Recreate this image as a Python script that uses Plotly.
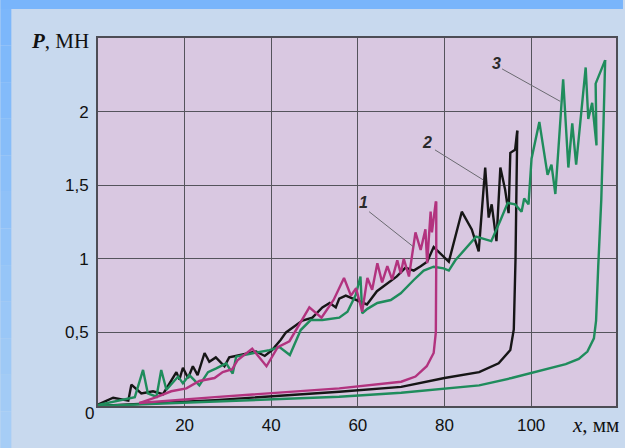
import plotly.graph_objects as go

# ---------------- data ----------------
# specimen 1 (magenta): noisy loading branch and smooth branch
s1_up_x = [9.5, 13.5, 16.9, 20.4, 23.4, 26.9, 28.8, 31, 32.2, 35.6, 38.9, 41.5, 44.2, 48.8, 51.6, 54.4,
           56.8, 58.4, 59.6, 61, 62.2, 63.3, 64.5, 65.6, 66.8, 67.9, 69.1, 69.9, 70.6, 71.8, 73.3, 74.5,
           75.6, 76.0, 76.8, 77.1, 78.0]
s1_up_y = [0.02, 0.06, 0.10, 0.12, 0.17, 0.19, 0.23, 0.25, 0.31, 0.39, 0.27, 0.40, 0.44, 0.67, 0.60, 0.72,
           0.87, 0.75, 0.80, 0.64, 0.87, 0.79, 0.97, 0.84, 0.95, 0.86, 0.99, 0.90, 1.00, 0.88, 1.18, 1.06,
           1.20, 0.97, 1.32, 1.18, 1.39]
s1_lo_x = [9.5, 27, 55.7, 70, 73.3, 75.9, 77.5, 78.0, 78.1, 78.1]
s1_lo_y = [0.02, 0.06, 0.12, 0.165, 0.20, 0.27, 0.36, 0.50, 1.00, 1.39]

# specimen 2 (black)
s2_up_x = [0, 3.5, 7, 7.7, 10, 12.7, 15, 18.1, 18.8, 19.6, 20.8, 21.9, 23, 24.6, 25.7, 27.2, 29.2, 30.3,
           33.4, 36.5, 38.5, 40.2, 42.2, 43.4, 47.2, 49.5, 51.8, 53.5, 54.9, 55.7, 57.2, 59.8, 62.1, 64.4,
           66.7, 69, 71, 72.9, 74.5, 76, 77.5, 79.8, 81, 84, 86.3, 87.9, 89.4, 90.2, 90.9, 92, 92.9, 94,
           94.8, 95.2, 96.3, 96.8]
s2_up_y = [0.01, 0.056, 0.036, 0.145, 0.085, 0.10, 0.08, 0.23, 0.18, 0.26, 0.19, 0.27, 0.21, 0.36, 0.30,
           0.33, 0.27, 0.33, 0.35, 0.37, 0.34, 0.38, 0.45, 0.50, 0.58, 0.60, 0.67, 0.70, 0.67, 0.73, 0.75,
           0.72, 0.69, 0.78, 0.83, 0.88, 0.94, 0.92, 0.95, 0.98, 1.08, 1.01, 0.98, 1.32, 1.20, 1.05, 1.62,
           1.28, 1.37, 1.12, 1.62, 1.47, 1.31, 1.72, 1.74, 1.87]
s2_lo_x = [0, 27, 55.7, 70, 80, 88, 92.5, 95.2, 96.0, 96.4, 96.8]
s2_lo_y = [0, 0.04, 0.097, 0.13, 0.19, 0.23, 0.29, 0.38, 0.52, 1.00, 1.87]

# specimen 3 (green)
s3_up_x = [0, 5.8, 8.5, 10.4, 11.5, 13.5, 14.6, 15.8, 17, 18.5, 19.6, 21.1, 23.4, 25.4, 27.3, 29.6, 31.1,
           31.9, 35.7, 39.6, 41.9, 44.3, 46.8, 49.1, 51.8, 55.7, 57.6, 59.5, 60.6, 61, 62.2, 64.5, 67.6,
           69.9, 72.9, 75.2, 77.5, 79.8, 81, 82.5, 87.3, 90.8, 92.9, 94.6, 96.3, 97.8, 98.4, 99.4, 100.1,
           101.9, 103.8, 104.7, 105.6, 107.4, 108.6, 109.5, 110.4, 112.6, 113.2, 114.1, 115.1, 114.9, 117.1]
s3_up_y = [0.007, 0.04, 0.06, 0.245, 0.086, 0.063, 0.245, 0.11, 0.15, 0.20, 0.154, 0.21, 0.14, 0.23, 0.256,
           0.29, 0.22, 0.335, 0.358, 0.38, 0.40, 0.346, 0.516, 0.584, 0.584, 0.60, 0.64, 0.754, 0.88, 0.63,
           0.66, 0.70, 0.72, 0.766, 0.856, 0.92, 0.946, 0.935, 0.92, 0.99, 1.15, 1.12, 1.26, 1.38, 1.37,
           1.32, 1.41, 1.37, 1.68, 1.93, 1.57, 1.64, 1.44, 2.22, 1.62, 1.92, 1.64, 2.30, 1.95, 2.06, 1.77,
           2.19, 2.35]
s3_lo_x = [0, 27, 55.7, 70, 88, 95.5, 103, 108, 111, 113, 114.5, 115, 115.5, 116.2, 116.7, 117.1]
s3_lo_y = [0, 0.03, 0.063, 0.09, 0.14, 0.19, 0.245, 0.285, 0.32, 0.37, 0.46, 0.58, 0.95, 1.40, 1.90, 2.35]

x_ticks = [20, 40, 60, 80, 100]
x_tick_text = ["20", "40", "60", "80", "100"]
y_ticks = [0.5, 1, 1.5, 2]
y_tick_text = ["0,5", "1", "1,5", "2"]

curve_labels = ["1", "2", "3"]
label_pos = [(61.4, 1.38), (75.9, 1.79), (92.0, 2.33)]
leader_lines = [((62.6, 1.32), (72.9, 1.08)), ((77.8, 1.74), (89.0, 1.535)), ((93.3, 2.29), (106.7, 2.07))]

# ---------------- styling ----------------
W, H = 625, 448
L, R, T, B = 98, 7, 38, 42
PW, PH = W - L - R, H - T - B

C_MAG = "#b2337f"
C_BLK = "#161616"
C_GRN = "#1f8c5c"

def px(x):
    return (x - L) / PW

def py(y):
    return (H - B - y) / PH

fig = go.Figure()
series = [
    (s2_up_x, s2_up_y, s2_lo_x, s2_lo_y, C_BLK),
    (s3_up_x, s3_up_y, s3_lo_x, s3_lo_y, C_GRN),
    (s1_up_x, s1_up_y, s1_lo_x, s1_lo_y, C_MAG),
]
for ux, uy, lx, ly, c in series:
    fig.add_trace(go.Scatter(x=lx, y=ly, mode="lines", line=dict(color=c, width=2.4),
                             showlegend=False, hoverinfo="skip"))
    fig.add_trace(go.Scatter(x=ux, y=uy, mode="lines", line=dict(color=c, width=2.4),
                             showlegend=False, hoverinfo="skip"))

shapes = []
# leader lines
for (a, b) in leader_lines:
    shapes.append(dict(type="line", xref="x", yref="y", x0=a[0], y0=a[1], x1=b[0], y1=b[1],
                       line=dict(color="#6a6a70", width=1)))
# blue frame (top and left bands)
shapes.append(dict(type="rect", xref="paper", yref="paper", x0=px(0), x1=px(W), y0=py(9), y1=py(0),
                   fillcolor="#79b5fb", line=dict(width=0), layer="above"))
nseg = 12
c0 = (0x7c, 0xb7, 0xfb)
c1 = (0xa6, 0xcd, 0xf6)
for i in range(nseg):
    t = i / (nseg - 1)
    col = "rgb(%d,%d,%d)" % tuple(int(c0[k] + (c1[k] - c0[k]) * t) for k in range(3))
    ya = 9 + (H - 9) * i / nseg
    yb = 9 + (H - 9) * (i + 1) / nseg
    shapes.append(dict(type="rect", xref="paper", yref="paper", x0=px(0), x1=px(11),
                       y0=py(yb), y1=py(ya), fillcolor=col, line=dict(width=0), layer="above"))

annotations = []
for txt, (x, y) in zip(curve_labels, label_pos):
    annotations.append(dict(x=x, y=y, xref="x", yref="y", text="<b><i>%s</i></b>" % txt,
                            xanchor="center", yanchor="middle",
                            showarrow=False, font=dict(family="Liberation Sans", size=16, color="#2a2a2a")))
annotations.append(dict(x=px(89), y=py(413), xref="paper", yref="paper", text="0", showarrow=False,
                        xanchor="center", yanchor="middle",
                        font=dict(family="Liberation Sans", size=17, color="#111111")))
annotations.append(dict(x=px(91), y=py(41), xref="paper", yref="paper", xanchor="right", yanchor="middle",
                        text="<b><i>P</i></b>, МН", showarrow=False,
                        font=dict(family="Liberation Serif", size=21, color="#111111")))
annotations.append(dict(x=px(597), y=py(425), xref="paper", yref="paper", xanchor="center", yanchor="middle",
                        text="<i>x</i>, мм", showarrow=False,
                        font=dict(family="Liberation Serif", size=21, color="#111111")))

axis_common = dict(showline=True, mirror=True, linecolor="#4d4d55", linewidth=2,
                   showgrid=True, gridcolor="#55545c", gridwidth=1.3, zeroline=False, ticks="",
                   tickfont=dict(family="Liberation Sans", size=17, color="#111111"), fixedrange=True)

fig.update_layout(
    width=W, height=H,
    margin=dict(l=L, r=R, t=T, b=B, pad=0),
    paper_bgcolor="#c8d9ee",
    plot_bgcolor="#d9c8e1",
    xaxis=dict(range=[0, 119.6], tickvals=x_ticks, ticktext=x_tick_text, ticklabelstandoff=3, **axis_common),
    yaxis=dict(range=[0, 2.5], tickvals=y_ticks, ticktext=y_tick_text, ticklabelstandoff=4, **axis_common),
    shapes=shapes,
    annotations=annotations,
)

fig.write_html("out.html", config={"displayModeBar": False},
               post_script="document.body.style.margin='0';document.body.style.overflow='hidden';")
